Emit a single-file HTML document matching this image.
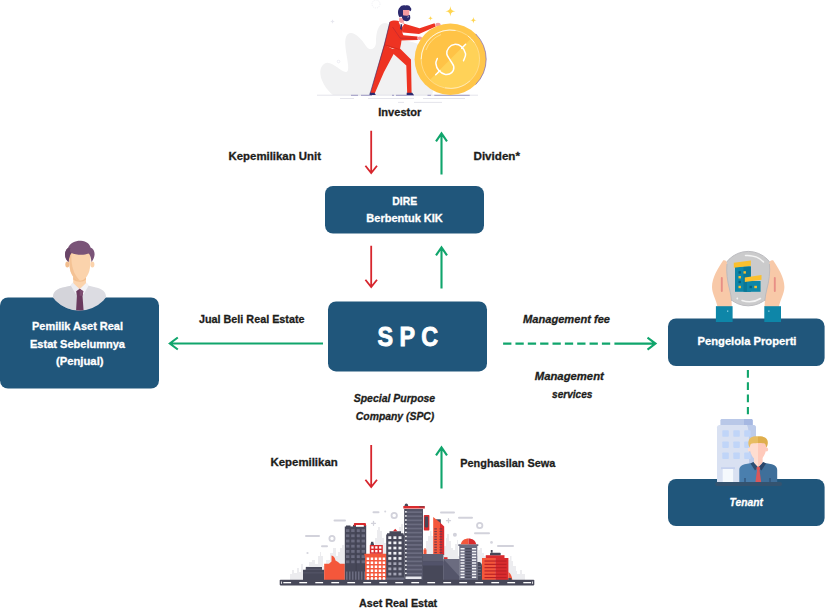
<!DOCTYPE html>
<html lang="id">
<head>
<meta charset="utf-8">
<title>Struktur DIRE</title>
<style>
html,body{margin:0;padding:0;background:#fff;}
body{width:825px;height:612px;overflow:hidden;position:relative;font-family:"Liberation Sans",sans-serif;}
svg{position:absolute;left:0;top:0;display:block;}
text{font-family:"Liberation Sans",sans-serif;font-weight:700;stroke-width:0.3px;}
.k{stroke:#1d1d1b;}
.w{stroke:#fff;}
.k{fill:#1d1d1b;}
.w{fill:#ffffff;}
.i{font-style:italic;}
.box{fill:#20567b;}
.red{stroke:#d7262d;stroke-width:1.8;fill:none;stroke-linecap:butt;stroke-linejoin:miter;}
.grn{stroke:#10a56c;stroke-width:2.1;fill:none;stroke-linecap:butt;stroke-linejoin:miter;}
</style>
</head>
<body>
<svg width="825" height="612" viewBox="0 0 825 612">
<!-- ===== BOXES ===== -->
<g id="boxes">
<rect class="box" x="325" y="186" width="159" height="47.5" rx="8"/>
<rect class="box" x="328" y="301.400" width="159" height="70" rx="8"/>
<rect class="box" x="0" y="297.5" width="159" height="91" rx="8"/>
<rect class="box" x="668" y="318.5" width="156.600" height="47.5" rx="8"/>
<rect class="box" x="668" y="479" width="156.600" height="47" rx="8"/>
</g>
<!-- ===== ARROWS ===== -->
<g id="arrows">
<path class="red" d="M371.2 130.7V173.39999999999998M365.4 165.79999999999998L371.2 173.1L377.0 165.79999999999998"/>
<path class="grn" d="M441.5 174.4V133.0M436.0 141.4L441.5 133.3L447.0 141.4"/>
<path class="red" d="M371.2 245.7V287.4M365.4 279.8L371.2 287.09999999999997L377.0 279.8"/>
<path class="grn" d="M441.5 288.4V247.0M436.0 255.4L441.5 247.3L447.0 255.4"/>
<path class="red" d="M371.2 445V487.4M365.4 479.8L371.2 487.09999999999997L377.0 479.8"/>
<path class="grn" d="M441.5 488.4V447.0M436.0 455.4L441.5 447.29999999999995L447.0 455.4"/>
<path class="grn" d="M323 343.500H170M177.800 337.500L169.800 343.500L177.800 349.500"/>
<path class="grn" d="M503.100 343.600H611" stroke-dasharray="8.300 4.050"/>
<path class="grn" d="M614.400 343.600H655.300M647.500 337.600L655.500 343.600L647.500 349.600"/>
<path class="grn" d="M747.900 370V414.300" stroke-dasharray="7.700 4.600"/>
</g>
<!-- ===== TEXT ===== -->
<g id="labels" font-size="11">
<text class="k" x="378.300" y="115.700" textLength="43" lengthAdjust="spacingAndGlyphs">Investor</text>
<text class="k" x="228.500" y="160" textLength="92.500" lengthAdjust="spacingAndGlyphs">Kepemilikan Unit</text>
<text class="k" x="473.500" y="160" textLength="46.500" lengthAdjust="spacingAndGlyphs">Dividen*</text>
<text class="w" x="392.300" y="204.700" textLength="24.800" lengthAdjust="spacingAndGlyphs">DIRE</text>
<text class="w" x="366.300" y="222" textLength="76.500" lengthAdjust="spacingAndGlyphs">Berbentuk KIK</text>
<text class="w" x="32" y="330" textLength="91" lengthAdjust="spacingAndGlyphs">Pemilik Aset Real</text>
<text class="w" x="30" y="347.500" textLength="95" lengthAdjust="spacingAndGlyphs">Estat Sebelumnya</text>
<text class="w" x="56" y="364.700" textLength="47.500" lengthAdjust="spacingAndGlyphs">(Penjual)</text>
<text class="k" x="199" y="322.500" textLength="105.500" lengthAdjust="spacingAndGlyphs">Jual Beli Real Estate</text>
<text class="w" x="377.500" y="345.800" font-size="27" style="stroke-width:0.9px" textLength="60.500" lengthAdjust="spacingAndGlyphs">S P C</text>
<text class="k i" x="353.700" y="402" textLength="81.500" lengthAdjust="spacingAndGlyphs">Special Purpose</text>
<text class="k i" x="355.800" y="419.600" textLength="78.500" lengthAdjust="spacingAndGlyphs">Company (SPC)</text>
<text class="k i" x="523" y="322.600" textLength="87" lengthAdjust="spacingAndGlyphs">Management fee</text>
<text class="k i" x="534.800" y="380" textLength="69" lengthAdjust="spacingAndGlyphs">Management</text>
<text class="k i" x="552" y="397.500" textLength="40.500" lengthAdjust="spacingAndGlyphs">services</text>
<text class="w" x="697.500" y="344.800" textLength="99" lengthAdjust="spacingAndGlyphs">Pengelola Properti</text>
<text class="w i" x="729.600" y="506" textLength="33.300" lengthAdjust="spacingAndGlyphs">Tenant</text>
<text class="k" x="270.500" y="466" textLength="67.200" lengthAdjust="spacingAndGlyphs">Kepemilikan</text>
<text class="k" x="460.300" y="467" textLength="95" lengthAdjust="spacingAndGlyphs">Penghasilan Sewa</text>
<text class="k" x="359" y="607.300" textLength="78.200" lengthAdjust="spacingAndGlyphs">Aset Real Estat</text>
</g>
<!-- ===== ILLUSTRATIONS ===== -->
<g id="investor">
<!-- grey blob -->
<path fill="#f1f1f2" d="M333 95C322 86 316 70 324 64C331 59 340 72 346 72C353 72 341 43 347 35C352 29 361 38 366 46C370 52 376 49 376 42C376 33 378 23 385 23C392 23 395 33 403 39.500C410 43 420 41 426 50C432 60 438 80 432 95Z"/>
<!-- ground lines -->
<path d="M317 95.200H478" stroke="#dddde6" stroke-width="0.800"/>
<path d="M351 95.300H358M361 95.300H372M392 95.300H394M396 95.300H414M427.500 95.300H431M434.300 95.300H469.700" stroke="#7a75b0" stroke-width="0.700"/>
<path d="M340 98.500H354M368 98.500H414M423 98.500H465M398 102.400H404M414 102.400H442" stroke="#dddde6" stroke-width="0.800"/>
<!-- sparkles deco -->
<circle cx="376" cy="4" r="4" fill="none" stroke="#e6e6ee" stroke-width="0.700" stroke-dasharray="1 1"/>
<path fill="#e6e6ee" d="M332.500 19C332.700 20.800 333.200 21.300 335 21.500C333.200 21.700 332.700 22.200 332.500 24C332.300 22.200 331.800 21.700 330 21.500C331.800 21.300 332.300 20.800 332.500 19Z"/>
<circle cx="338.500" cy="61.500" r="1.300" fill="none" stroke="#e3e3ec" stroke-width="0.600"/>
<!-- man: back leg -->
<path fill="#ee3322" d="M384.200 44.500L395.500 50.500L384 72L374.700 93.500L370.200 93.500Z"/>
<path fill="#2d2a6e" d="M369.800 92.800L374.500 92.800L375.800 95L369.500 95Z"/>
<!-- man: front leg -->
<path fill="#ee3322" d="M392 49L400 48.500L411 59.500L411.600 93.500L407.200 93.500L406.300 65.500L392.500 53Z"/>
<path fill="#2d2a6e" d="M406.700 92.800L412.300 92.800L413.800 95L406.700 95Z"/>
<!-- torso -->
<path fill="#ee3322" d="M389.800 21.800C392 20.200 397 20.200 400 21.500L404.300 24L402.500 33L401 44L399.600 50.500L384 45.500Z"/>
<path d="M389.900 22L384.300 45L370.300 93" stroke="#2d2a6e" stroke-width="0.700" fill="none" opacity="0.850"/>
<path d="M385 44.800L399.500 49.500" stroke="#c32218" stroke-width="0.500" fill="none"/>
<!-- far arm -->
<path fill="#ee3322" d="M403.500 23.600L419.600 28.300L434.500 23.200L435.800 26.600L419 34L402.800 32.500Z"/>
<!-- neck / shirt -->
<path fill="#f59ba0" d="M399.300 17.500L403.800 18.500L403.800 23L399 21.800Z"/>
<path fill="#ffffff" d="M398.500 21.500L404.300 24L401.300 28Z"/>
<path fill="#2d2a6e" d="M400.700 24L402.200 24.600L401.500 30.500L400.200 28.500Z"/>
<!-- near arm -->
<path fill="#ee3322" d="M390.300 22.200L394.800 21.200L403.500 35.300L417.500 36.400L417.800 39.900L399.800 40.500L390.500 28Z"/>
<path d="M392.500 27L400.200 38.200L416.500 38.200" stroke="#9c1f3a" stroke-width="0.500" fill="none" opacity="0.800"/>
<!-- hands -->
<ellipse cx="438" cy="24.700" rx="2.700" ry="1.900" fill="#f59ba0"/>
<ellipse cx="419.700" cy="38.200" rx="2.600" ry="1.700" fill="#f59ba0"/>
<!-- head -->
<path fill="#2d2a6e" d="M399.300 17C397.600 14 397.500 9.500 399.800 7.500C401 5.300 403.500 4.800 405.500 5.500C407.500 4.600 410 5.500 410.300 7.300C411.800 8.300 411.600 10.500 410.200 11.200L409.300 10.500L403 10.500L403 16.500Z"/>
<path fill="#f59ba0" d="M403 10H409.300V16H403Z"/>
<path fill="#2d2a6e" d="M401.400 14.500L404 15.600L407 15.800L410 15L410.300 18C410 20 408.800 21.200 406.500 21.200C403.800 21.200 402 19.500 401.400 14.500Z"/>
<path d="M407.300 17.200L409 16.600" stroke="#ffffff" stroke-width="0.600" fill="none"/>
<!-- coin -->
<circle cx="450.400" cy="59.200" r="35.800" fill="#ffc64a"/>
<path d="M475.700 33.900A35.800 35.800 0 0 1 475.700 84.500" fill="none" stroke="#7d68b5" stroke-width="0.800" opacity="0.900"/>
<circle cx="450.400" cy="59.200" r="29.200" fill="#ffd258"/>
<path fill="#ffc346" d="M471 38.500A29.200 29.200 0 0 0 421.200 59.200A29.200 29.200 0 0 0 429.700 79.900Z"/>
<circle cx="450.400" cy="59.200" r="29.200" fill="none" stroke="#ffe7ad" stroke-width="0.600"/><path d="M421.200 59.200A29.200 29.200 0 0 1 455.500 30.450" fill="none" stroke="#ffffff" stroke-width="0.700"/><path d="M468 36A29.200 29.200 0 0 1 474.300 42.500" fill="none" stroke="#ffffff" stroke-width="0.600"/><path d="M470 81A29.200 29.200 0 0 1 445 87.900" fill="none" stroke="#ffffff" stroke-width="0.500" opacity="0.800"/>
<path d="M426 50A26.500 26.500 0 0 1 441 34.500" fill="none" stroke="#ffe49a" stroke-width="0.800"/>
<g fill="none" stroke="#ffffff" stroke-width="1.500" stroke-linecap="round"><path d="M463.5 60.8C463.9 59.6 466.0 56.3 465.6 53.9C465.2 51.5 463.3 48.2 461.4 46.6C459.5 45.0 456.5 44.2 454.4 44.4C452.3 44.6 450.2 46.0 448.9 47.6C447.6 49.2 446.6 51.8 446.8 53.9C447.0 56.0 449.1 58.1 450.3 60.3C451.5 62.4 453.6 64.8 453.8 66.8C454.0 68.8 453.1 71.3 451.7 72.6C450.3 73.9 447.5 74.7 445.4 74.4C443.2 74.1 440.4 72.4 438.8 70.6C437.2 68.8 436.1 65.6 435.9 63.6C435.6 61.6 437.1 59.4 437.3 58.6"/><path d="M465.600 44.200L461.700 48.300M439.900 70.600L435.700 74.700"/></g>
<!-- stars -->
<path fill="#ffd54f" d="M450.400 6C450.900 9.800 451.600 10.700 455.400 11.300C451.600 11.900 450.900 12.800 450.400 16.600C449.900 12.800 449.200 11.900 445.400 11.300C449.200 10.700 449.900 9.800 450.400 6Z"/>
<path fill="#ffd54f" d="M430.500 15.700C430.800 17.600 431.100 17.900 433 18.200C431.100 18.500 430.800 18.800 430.500 20.700C430.200 18.800 429.900 18.500 428 18.200C429.900 17.900 430.200 17.600 430.500 15.700Z"/>
<path fill="#ffd54f" d="M473.400 17C473.800 19.500 474.200 19.900 476.600 20.300C474.200 20.700 473.800 21.100 473.400 23.600C473 21.100 472.600 20.700 470.200 20.300C472.600 19.900 473 19.500 473.400 17Z"/>
</g>
<g id="seller">
<defs><clipPath id="cpS"><circle cx="79.500" cy="277" r="33.500"/></clipPath></defs>
<g clip-path="url(#cpS)">
<!-- shirt -->
<path fill="#dcdce2" d="M53 312V297C53 291.500 57 289 63 287.500L74 285H86L96 287.500C102 289 106 291.500 106 297V312Z"/>
<path fill="#cfcfd6" d="M53 312V297C53 291.500 57 289 63 287.500L74 285L79.500 291V312Z" opacity="0.650"/>
<!-- neck -->
<path fill="#fbd3ac" d="M73.200 274H86V284L79.700 289.200L73.200 284Z"/>
<path fill="#f2be8f" d="M73.200 274H86V279.500C83 282.500 76.500 282.500 73.200 279.500Z"/>
<!-- collar -->
<path fill="#ececf1" d="M72.600 282.600L79.700 289.200L76 294.500L70.500 285.200Z"/>
<path fill="#f3f3f7" d="M86.600 282.600L79.700 289.200L83.500 294.500L88.800 285.200Z"/>
<!-- tie -->
<path fill="#6a3a5e" d="M76.200 291.200L79.700 288.700L83.300 291.200L82.500 295.800L83.700 312H76L76.900 295.800Z"/>
<path fill="#7c4c70" d="M79.700 288.700L83.300 291.200L82.500 295.800H79.700Z"/>
</g>
<!-- ears -->
<ellipse cx="67.300" cy="264.500" rx="2" ry="3" fill="#f2be8f"/>
<ellipse cx="92.400" cy="264.500" rx="2" ry="3" fill="#fbd3ac"/>
<!-- face -->
<path fill="#fbd3ac" d="M69.200 258C69.200 250 74 247 80 247C86 247 90.500 250 90.500 258C90.500 263 90.300 267 89.300 271C87.800 276.500 84 280.700 80 280.700C76 280.700 72 276.500 70.400 271C69.400 267 69.200 263 69.200 258Z"/>
<path fill="#f2be8f" d="M69.200 258C69.200 254 70 252.500 71.500 251C70.800 262 72 273 80 280.700C76 280.700 72 276.500 70.400 271C69.400 267 69.200 263 69.200 258Z" opacity="0.800"/>
<!-- hair -->
<path fill="#7a5478" d="M68.500 262C64.500 259 63.500 251.500 68 248C70 242.500 76 240.500 81 240.800C86.500 241 90 244.500 90.500 247.500C95.500 249 96 257 91.500 262C91 258 90.500 255 88.500 253.500C83 256 75 254.500 71.500 253C69.500 255 69 258.500 68.500 262Z"/>
<path fill="#694567" d="M68.500 262C64.500 259 63.500 251.500 68 248C69 247.500 70 247.500 70.500 248C69.500 250 70 252 71.500 253C69.500 255 69 258.500 68.500 262Z"/>
</g>
<g id="manager">
<!-- globe -->
<circle cx="748.200" cy="278.600" r="27.200" fill="#cbcbcc" stroke="#bcbcc0" stroke-width="1"/>
<path d="M745.500 255.500C753 255 760 258 763.500 262" fill="none" stroke="#f4f4f4" stroke-width="1.500" stroke-linecap="round"/>
<path d="M742 300.500C748 302.500 755 302 760.500 298.500" fill="none" stroke="#f4f4f4" stroke-width="1.500" stroke-linecap="round"/>
<circle cx="737.300" cy="298.500" r="0.900" fill="#f4f4f4"/>
<!-- building -->
<path fill="#0e86a8" d="M735 266.500H750.800V291.800H735Z"/>
<path fill="#0b7796" d="M743.500 266.500H750.800V291.800H743.500Z"/>
<path fill="#fbc02d" d="M733.800 262.800L750.800 260.500V265.700L733.800 267.800Z"/>
<path fill="#0e86a8" d="M745 281H760.600V291.800H745Z"/>
<path fill="#0b7796" d="M745 281H747V291.800H745Z"/>
<path fill="#fbc02d" d="M744.800 277.500L761.500 275V279.800L744.800 282Z"/>
<g fill="#fbc02d"><rect x="743.500" y="271.200" width="2.400" height="2.400"/><rect x="738.500" y="276" width="2.400" height="2.400"/><rect x="738.500" y="285.800" width="2.400" height="2.400"/><rect x="754.300" y="285.800" width="2.600" height="2.400"/></g>
<g fill="#0a5f7a"><rect x="738.500" y="271.200" width="2.400" height="2.400"/><rect x="738.500" y="280.800" width="2.400" height="2.400"/><rect x="749.500" y="285.800" width="2.400" height="2.400"/></g>
<!-- hands -->
<path fill="#f8c9a8" d="M723.300 260.300C725.500 259.800 727.300 261.500 727 264C726 271 727.500 282 729.500 289C731 295 731.800 300 731.800 307H717.500C716.500 300 712 294 712 287C712 278 718 268 723.300 260.300Z"/>
<path fill="#f8c9a8" d="M773.100 260.300C770.900 259.800 769.100 261.500 769.400 264C770.400 271 768.900 282 766.900 289C765.400 295 764.600 300 764.600 307H778.900C779.900 300 784.400 294 784.400 287C784.400 278 778.400 268 773.100 260.300Z"/>
<path d="M727 264C726 271 727.500 282 729.500 289C730.500 293 731.300 297 731.600 301" fill="none" stroke="#b9b9bd" stroke-width="0.900"/>
<path d="M769.400 264C770.400 271 768.900 282 766.900 289C765.900 293 765.100 297 764.800 301" fill="none" stroke="#b9b9bd" stroke-width="0.900"/>
<path d="M721.800 278V291" stroke="#e88f86" stroke-width="1.900" stroke-linecap="round"/>
<path d="M774.800 278V291" stroke="#e88f86" stroke-width="1.900" stroke-linecap="round"/>
<!-- cuffs -->
<rect x="715.900" y="306.200" width="16.700" height="15.800" fill="#0e86a8"/>
<rect x="764.300" y="306.200" width="16.700" height="15.800" fill="#0e86a8"/>
<rect x="727" y="310.500" width="1.300" height="1.300" fill="#8fd0e2"/>
<rect x="768.200" y="310.500" width="1.300" height="1.300" fill="#8fd0e2"/>
</g>
<g id="tenant">
<!-- building -->
<path fill="#b9c8e8" d="M722 418.900H751C752 418.900 752.700 419.600 752.700 420.500V426H720.400V420.500C720.400 419.600 721 418.900 722 418.900Z"/>
<path fill="#a6b8e2" d="M744 418.900H751C752 418.900 752.700 419.600 752.700 420.500V426H744Z"/>
<path fill="#d9e1f2" d="M719.500 425H753.500C755 425 756 426 756 427.500V482.500H717V427.500C717 426 718 425 719.500 425Z"/>
<path fill="#bccbea" d="M747 425H753.500C755 425 756 426 756 427.500V482.500H749V440C749 433 748.500 428 747 425Z"/>
<g fill="#c0d5f8">
<rect x="722.300" y="430.300" width="6.500" height="6.500" rx="0.800"/><rect x="733.300" y="430.300" width="6.500" height="6.500" rx="0.800"/><rect x="744.200" y="430.300" width="6.500" height="6.500" rx="0.800"/>
<rect x="722.300" y="441.400" width="6.500" height="6.500" rx="0.800"/><rect x="733.300" y="441.400" width="6.500" height="6.500" rx="0.800"/><rect x="744.200" y="441.400" width="6.500" height="6.500" rx="0.800"/>
<rect x="722.300" y="452.500" width="6.500" height="6.500" rx="0.800"/><rect x="733.300" y="452.500" width="6.500" height="6.500" rx="0.800"/><rect x="744.200" y="452.500" width="6.500" height="6.500" rx="0.800"/>
</g>
<rect x="721" y="467.200" width="14" height="2" fill="#c5d1ee"/>
<rect x="722.700" y="469" width="10.400" height="13.500" fill="#f5f9fd"/>
<!-- man -->
<path fill="#4a7fae" d="M739.300 482.500V470C739.300 466.500 742 464.500 746 464L754 462.500H758V482.500Z"/>
<path fill="#3f6f9a" d="M777.200 482.500V470C777.200 466.500 774.500 464.500 770.500 464L762.500 462.500H758V482.500Z"/>
<path fill="#ffddd0" d="M754 456H758V468L754 463.500Z"/>
<path fill="#ffcabb" d="M762.600 456H758V468L762.600 463.500Z"/>
<path fill="#2e4e72" d="M753.300 462L758.300 467.500L755 470.500L750.500 463.500Z"/>
<path fill="#2a466a" d="M763.300 462L758.300 467.500L761.500 470.500L766 463.500Z"/>
<path fill="#d9575a" d="M756.300 467.800L758.300 466.200L760.300 467.800L759.600 470.500L761.200 482.500H755.400L757 470.500Z"/>
<path fill="#2e4e72" d="M744.400 478H745.600V482.500H744.400ZM769.400 478H770.600V482.500H769.400Z"/>
<ellipse cx="749.300" cy="449.500" rx="1.400" ry="2" fill="#ffddd0"/>
<ellipse cx="766.700" cy="449.500" rx="1.400" ry="2" fill="#ffcabb"/>
<path fill="#ffddd0" d="M749.600 446C749.600 441 753 439 758 439V460C753 460 749.600 453 749.600 446Z"/>
<path fill="#ffcabb" d="M766.400 446C766.400 441 763 439 758 439V460C763 460 766.400 453 766.400 446Z"/>
<path fill="#e8bd62" d="M749.600 447.500C747.500 444 748 438.500 752 437C754 436.200 756 436.200 758 436.200V443C755 443.500 752 443 750.800 444C750.200 445 750 446.500 749.600 447.500Z"/>
<path fill="#dfae4c" d="M766.400 447.500C768.500 444 768.500 439.500 765 437.500C763 436.200 760 436.200 758 436.200V443C761 443.500 764 443 765.200 444C765.800 445 766 446.500 766.400 447.500Z"/>
</g>
<rect x="715.200" y="482" width="66.800" height="4" rx="2" fill="#34536f"/>
<g id="city">
<path fill="#ececef" d="M326 580V560H330V553H333V548H336V556H338V580Z"/><path fill="#ececef" d="M380 580V548H383V543H386V580Z"/><path fill="#ececef" d="M428 580V536H430V531H431.500V536H434V580Z"/><path fill="#ececef" d="M452 580V550H455V544H457V540H458V580Z"/><path fill="#ececef" d="M508 580V560H510V556H511.500V561H513V566H516V580Z"/>
<path fill="#ececef" d="M290 580V574H292V570H294V573H297V568H299V572H301V564H303V570H306V580Z"/>
<path fill="#ececef" d="M306 580V566H309V562H312V560H315V564H318V556H320V552H321V556H323V566H326V580Z"/>
<path fill="#ececef" d="M338 580V552H340V548H342V545H344V580Z"/>
<path fill="#ececef" d="M375 580V538H377V530H378V527H380V531H382V538H384V580Z"/>
<path fill="#ececef" d="M399 580V527H401V524H403V580Z"/>
<path fill="#ececef" d="M424 580V548H426V541H428V545H430V540H432V546H434V580Z"/>
<path fill="#ececef" d="M444 580V546H446V538H447V534H449V541H451V548H453V552H456V546H458V556H460V580Z"/>
<path fill="#ececef" d="M476 580V556H478V550H480V548H482V553H484V556H486V580Z"/>
<path fill="#ececef" d="M506 580V570H508V566H510V562H512V568H514V571H517V574H520V570H522V574H525V580Z"/>
<g stroke="#d2d2db" stroke-width="2" stroke-linecap="round" fill="none">
<path d="M334.5 520.5H345"/>
<path d="M306 536H319"/>
<path d="M322 546.3H327"/>
<path d="M373.5 512.3H378.5"/>
<path d="M441 512.5H454"/>
<path d="M459 517.7H472"/>
<path d="M475 533.2H489"/>
<path d="M498 546H513"/>
</g>
<g stroke="#d2d2db" stroke-width="1.300" stroke-linecap="round" fill="none"><path d="M373.500 521.300V525.300M371.500 523.300H375.500"/><path d="M448.500 518.700V522.700M446.500 520.700H450.500"/></g>
<g stroke="#d2d2db" stroke-width="1.800" fill="none">
<circle cx="332" cy="538.5" r="2.6"/>
<circle cx="394.2" cy="515.5" r="2.7"/>
<circle cx="479.7" cy="525.5" r="2.7"/>
<circle cx="454.900" cy="534.800" r="1.100" fill="#dcdce3"/>
</g>
<g fill="#d6d6de"><circle cx="307.500" cy="553" r="1.100"/><circle cx="385.200" cy="511.500" r="1"/><circle cx="491.500" cy="542.400" r="1.400"/></g>
<path fill="#474859" d="M303 580V569.800H305.800V567H322V569.800H324.200V580Z"/>
<path fill="#5a5b6e" d="M305.800 568.800H322V569.800H305.800Z"/>
<path fill="#5a5b6e" d="M303 572.500H324.200V573.300H303Z"/>
<path fill="#f4573b" d="M324.200 580V563.800H329L331.500 561.500V555.500C333.500 555.800 335 557.500 335.500 560.500L338 562L340 563.800H344.800V580Z"/>
<path fill="#474859" d="M344.800 580V526.500H346V525.500H350.500V526.500H353V525H366.200V580Z"/>
<path fill="#ffffff" d="M356 525H363.800V526.800H356Z"/><path fill="#d92b2e" d="M353.800 526V524.200C353.800 523.500 354.300 523 355 523H364.800C365.500 523 366 523.500 366 524.200V526H364V525H355.800V526Z"/>
<g fill="#6b6c80"><rect x="346.0" y="529.2" width="3.400" height="2.800"/><rect x="351.2" y="529.2" width="3.400" height="2.800"/><rect x="356.4" y="529.2" width="3.400" height="2.800"/><rect x="361.6" y="529.2" width="3.400" height="2.800"/><rect x="346.0" y="534.4" width="3.400" height="2.800"/><rect x="351.2" y="534.4" width="3.400" height="2.800"/><rect x="356.4" y="534.4" width="3.400" height="2.800"/><rect x="361.6" y="534.4" width="3.400" height="2.800"/><rect x="346.0" y="539.6" width="3.400" height="2.800"/><rect x="351.2" y="539.6" width="3.400" height="2.800"/><rect x="356.4" y="539.6" width="3.400" height="2.800"/><rect x="361.6" y="539.6" width="3.400" height="2.800"/><rect x="346.0" y="544.8" width="3.400" height="2.800"/><rect x="351.2" y="544.8" width="3.400" height="2.800"/><rect x="356.4" y="544.8" width="3.400" height="2.800"/><rect x="361.6" y="544.8" width="3.400" height="2.800"/><rect x="346.0" y="550.0" width="3.400" height="2.800"/><rect x="351.2" y="550.0" width="3.400" height="2.800"/><rect x="356.4" y="550.0" width="3.400" height="2.800"/><rect x="361.6" y="550.0" width="3.400" height="2.800"/><rect x="346.0" y="555.2" width="3.400" height="2.800"/><rect x="351.2" y="555.2" width="3.400" height="2.800"/><rect x="356.4" y="555.2" width="3.400" height="2.800"/><rect x="361.6" y="555.2" width="3.400" height="2.800"/><rect x="346.0" y="560.4" width="3.400" height="2.800"/><rect x="351.2" y="560.4" width="3.400" height="2.800"/><rect x="356.4" y="560.4" width="3.400" height="2.800"/><rect x="361.6" y="560.4" width="3.400" height="2.800"/></g>
<path fill="#3b3c4b" d="M355.500 527H357V571H355.500Z" opacity="0.500"/>
<g fill="#6b6c80"><rect x="346.0" y="571.500" width="1.500" height="8.500"/><rect x="349.0" y="571.500" width="1.500" height="8.500"/><rect x="352.0" y="571.500" width="1.500" height="8.500"/><rect x="355.0" y="571.500" width="1.500" height="8.500"/><rect x="358.0" y="571.500" width="1.500" height="8.500"/><rect x="361.0" y="571.500" width="1.500" height="8.500"/><rect x="364.0" y="571.500" width="1.500" height="8.500"/></g>
<path fill="#f4573b" d="M365 580V555.500H364.300V553.800H387.500V555.500H386.800V580Z"/>
<path fill="#d92b2e" d="M369.800 553.800V545H382.800V553.800Z"/>
<path fill="#474859" d="M371 545V541.800H373.400V545Z"/>
<path fill="#474859" d="M370.500 543.500H374V545H370.500Z"/>
<g fill="#ffffff"><rect x="371.3" y="546.3" width="2.300" height="2.300"/><rect x="371.3" y="550" width="2.300" height="2.300"/><rect x="375.2" y="546.3" width="2.300" height="2.300"/><rect x="375.2" y="550" width="2.300" height="2.300"/><rect x="379.1" y="546.3" width="2.300" height="2.300"/><rect x="379.1" y="550" width="2.300" height="2.300"/><rect x="366.7" y="557.5" width="2.500" height="2.500"/><rect x="370.7" y="557.5" width="2.500" height="2.500"/><rect x="374.7" y="557.5" width="2.500" height="2.500"/><rect x="378.7" y="557.5" width="2.500" height="2.500"/><rect x="382.7" y="557.5" width="2.500" height="2.500"/><rect x="366.7" y="561.5" width="2.500" height="2.500"/><rect x="370.7" y="561.5" width="2.500" height="2.500"/><rect x="374.7" y="561.5" width="2.500" height="2.500"/><rect x="378.7" y="561.5" width="2.500" height="2.500"/><rect x="382.7" y="561.5" width="2.500" height="2.500"/><rect x="366.7" y="565.5" width="2.500" height="2.500"/><rect x="370.7" y="565.5" width="2.500" height="2.500"/><rect x="374.7" y="565.5" width="2.500" height="2.500"/><rect x="378.7" y="565.5" width="2.500" height="2.500"/><rect x="382.7" y="565.5" width="2.500" height="2.500"/><rect x="366.7" y="569.5" width="2.500" height="2.500"/><rect x="370.7" y="569.5" width="2.500" height="2.500"/><rect x="374.7" y="569.5" width="2.500" height="2.500"/><rect x="378.7" y="569.5" width="2.500" height="2.500"/><rect x="382.7" y="569.5" width="2.500" height="2.500"/><rect x="366.7" y="573.5" width="2.500" height="2.500"/><rect x="370.7" y="573.5" width="2.500" height="2.500"/><rect x="374.7" y="573.5" width="2.500" height="2.500"/><rect x="378.7" y="573.5" width="2.500" height="2.500"/><rect x="382.7" y="573.5" width="2.500" height="2.500"/><path d="M366.7 580V578.200A1.250 1.250 0 0 1 369.2 578.200V580Z"/><path d="M370.7 580V578.200A1.250 1.250 0 0 1 373.2 578.200V580Z"/><path d="M374.7 580V578.200A1.250 1.250 0 0 1 377.2 578.200V580Z"/><path d="M378.7 580V578.200A1.250 1.250 0 0 1 381.2 578.200V580Z"/><path d="M382.7 580V578.200A1.250 1.250 0 0 1 385.2 578.200V580Z"/></g>
<path fill="#474859" d="M386.200 580V534.500H387V533.200H389.500V531.300H401V533.200H403.500V534.500H404.200V580Z"/>
<path fill="#d92b2e" d="M393 531.300L395.200 528.800L397.400 531.300Z"/>
<g fill="#f1f1f5"><rect x="388.3" y="536.3" width="3" height="2.700"/><rect x="393.4" y="536.3" width="3" height="2.700"/><rect x="398.5" y="536.3" width="3" height="2.700"/><rect x="388.3" y="541.5" width="3" height="2.700"/><rect x="393.4" y="541.5" width="3" height="2.700"/><rect x="398.5" y="541.5" width="3" height="2.700"/><rect x="388.3" y="546.7" width="3" height="2.700"/><rect x="393.4" y="546.7" width="3" height="2.700"/><rect x="398.5" y="546.7" width="3" height="2.700"/><rect x="388.3" y="551.9" width="3" height="2.700"/><rect x="393.4" y="551.9" width="3" height="2.700"/><rect x="398.5" y="551.9" width="3" height="2.700"/><rect x="388.3" y="557.1" width="3" height="2.700"/><rect x="393.4" y="557.1" width="3" height="2.700"/><rect x="398.5" y="557.1" width="3" height="2.700"/></g><g fill="#a3a4b4"><rect x="388.3" y="562.3" width="3" height="2.700"/><rect x="393.4" y="562.3" width="3" height="2.700"/><rect x="398.5" y="562.3" width="3" height="2.700"/><rect x="388.3" y="567.5" width="3" height="2.700"/><rect x="393.4" y="567.5" width="3" height="2.700"/><rect x="398.5" y="567.5" width="3" height="2.700"/><rect x="388.3" y="572.7" width="3" height="2.700"/><rect x="393.4" y="572.7" width="3" height="2.700"/><rect x="398.5" y="572.7" width="3" height="2.700"/></g>
<path fill="#6b6c80" d="M386.200 577.500H404.200V580H386.200Z"/>
<path fill="#474859" d="M404.200 580V509H423V580Z"/>
<path fill="#6b6c80" d="M406.500 509H423V580H406.500Z" opacity="0.350"/>
<g fill="#6b6c80"><rect x="407" y="511.3" width="15" height="1.700"/><rect x="407" y="515.4" width="15" height="1.700"/><rect x="407" y="519.5" width="15" height="1.700"/><rect x="407" y="523.6" width="15" height="1.700"/><rect x="407" y="527.7" width="15" height="1.700"/><rect x="407" y="531.8" width="15" height="1.700"/><rect x="407" y="535.9" width="15" height="1.700"/><rect x="407" y="540.0" width="15" height="1.700"/><rect x="407" y="544.1" width="15" height="1.700"/><rect x="407" y="548.2" width="15" height="1.700"/><rect x="407" y="552.3" width="15" height="1.700"/><rect x="407" y="556.4" width="15" height="1.700"/><rect x="407" y="560.5" width="15" height="1.700"/><rect x="407" y="564.6" width="15" height="1.700"/><rect x="407" y="568.7" width="15" height="1.700"/><rect x="407" y="572.8" width="15" height="1.700"/></g>
<g fill="#f1f1f5"><rect x="405" y="511.1" width="1.800" height="1.500"/><rect x="405" y="515.2" width="1.800" height="1.500"/><rect x="405" y="519.3" width="1.800" height="1.500"/><rect x="405" y="523.4" width="1.800" height="1.500"/><rect x="405" y="527.5" width="1.800" height="1.500"/><rect x="405" y="531.6" width="1.800" height="1.500"/><rect x="405" y="535.7" width="1.800" height="1.500"/><rect x="405" y="539.8" width="1.800" height="1.500"/><rect x="405" y="543.9" width="1.800" height="1.500"/><rect x="405" y="548.0" width="1.800" height="1.500"/><rect x="405" y="552.1" width="1.800" height="1.500"/><rect x="405" y="556.2" width="1.800" height="1.500"/><rect x="405" y="560.3" width="1.800" height="1.500"/><rect x="405" y="564.4" width="1.800" height="1.500"/><rect x="405" y="568.5" width="1.800" height="1.500"/><rect x="405" y="572.6" width="1.800" height="1.500"/></g>
<path fill="#e8e8ee" d="M405.500 576.500H421.500V579H405.500Z"/>
<path fill="#474859" d="M404.500 506C404.500 504.300 405.500 503.500 406.300 503.500C407.200 503.500 408.200 504.300 408.200 506Z"/>
<path fill="#d92b2e" d="M403.300 506H424.300C424.600 506 424.800 506.300 424.800 506.600V508.500H403.300Z"/>
<path fill="#474859" d="M419 506.300H424.600V507.200H419Z" opacity="0.600"/>
<rect x="423.800" y="515" width="5.600" height="15.600" rx="0.800" fill="#d92b2e"/>
<rect x="424.800" y="516.500" width="3.400" height="11" rx="1.200" fill="#474859"/>
<path fill="#474859" d="M436 527V519.300H440.800V527Z"/>
<path fill="#f4573b" d="M433.200 555V517L440 522.500V555Z"/>
<path fill="#d92b2e" d="M440 522.500L444.200 526.500V555H440Z"/>
<g fill="#7d3a46"><rect x="434.300" y="528.30" width="2.600" height="1.200"/><rect x="439.500" y="528.30" width="2.700" height="1.200"/><rect x="434.300" y="530.92" width="2.600" height="1.200"/><rect x="439.500" y="530.92" width="2.700" height="1.200"/><rect x="434.300" y="533.54" width="2.600" height="1.200"/><rect x="439.500" y="533.54" width="2.700" height="1.200"/><rect x="434.300" y="536.16" width="2.600" height="1.200"/><rect x="439.500" y="536.16" width="2.700" height="1.200"/><rect x="434.300" y="538.78" width="2.600" height="1.200"/><rect x="439.500" y="538.78" width="2.700" height="1.200"/><rect x="434.300" y="541.40" width="2.600" height="1.200"/><rect x="439.500" y="541.40" width="2.700" height="1.200"/><rect x="434.300" y="544.02" width="2.600" height="1.200"/><rect x="439.500" y="544.02" width="2.700" height="1.200"/><rect x="434.300" y="546.64" width="2.600" height="1.200"/><rect x="439.500" y="546.64" width="2.700" height="1.200"/><rect x="434.300" y="549.26" width="2.600" height="1.200"/><rect x="439.500" y="549.26" width="2.700" height="1.200"/><rect x="434.300" y="551.88" width="2.600" height="1.200"/><rect x="439.500" y="551.88" width="2.700" height="1.200"/></g>
<path fill="#f4573b" d="M423.500 554V549.500H424.500V548H425.500V549.500H426.500V554Z"/>
<path fill="#5d5e72" d="M423 554H443.500V580H423Z"/>
<path fill="#474859" d="M423 561.500H443.500V580H423Z"/>
<path fill="#52536a" d="M423 561.500H443.500V565.500H423Z"/>
<path fill="#d92b2e" d="M444 557.200H447.500V559H444Z"/>
<path fill="#6b6c80" d="M443.500 559H459.500V580H443.500Z"/>
<path fill="#54556a" d="M443.500 559L459.500 576.500V580H443.500Z"/>
<path fill="#6b6c80" d="M459.300 580V546H458.300V544.200H478.300V546H477.300V580Z"/>
<path fill="#f4573b" d="M460.800 544.200C461.500 540.500 464.500 538.400 468.500 538.400V544.200Z"/>
<path fill="#d92b2e" d="M476.200 544.200C475.500 540.500 472.500 538.400 468.500 538.400V544.200Z"/>
<g fill="#f1f1f5"><rect x="460.500" y="548.00" width="4" height="1.500"/><rect x="472" y="548.00" width="4.200" height="1.500"/><rect x="460.500" y="550.85" width="4" height="1.500"/><rect x="472" y="550.85" width="4.200" height="1.500"/><rect x="460.500" y="553.70" width="4" height="1.500"/><rect x="472" y="553.70" width="4.200" height="1.500"/><rect x="460.500" y="556.55" width="4" height="1.500"/><rect x="472" y="556.55" width="4.200" height="1.500"/><rect x="460.500" y="559.40" width="4" height="1.500"/><rect x="472" y="559.40" width="4.200" height="1.500"/><rect x="460.500" y="562.25" width="4" height="1.500"/><rect x="472" y="562.25" width="4.200" height="1.500"/><rect x="460.500" y="565.10" width="4" height="1.500"/><rect x="472" y="565.10" width="4.200" height="1.500"/><rect x="460.500" y="567.95" width="4" height="1.500"/><rect x="472" y="567.95" width="4.200" height="1.500"/><rect x="460.500" y="570.80" width="4" height="1.500"/><rect x="472" y="570.80" width="4.200" height="1.500"/><rect x="460.500" y="573.65" width="4" height="1.500"/><rect x="472" y="573.65" width="4.200" height="1.500"/><rect x="460.500" y="576.50" width="4" height="1.500"/><rect x="472" y="576.50" width="4.200" height="1.500"/></g>
<g fill="#474859"><rect x="465.300" y="548.00" width="6" height="1.500"/><rect x="465.300" y="550.85" width="6" height="1.500"/><rect x="465.300" y="553.70" width="6" height="1.500"/><rect x="465.300" y="556.55" width="6" height="1.500"/><rect x="465.300" y="559.40" width="6" height="1.500"/><rect x="465.300" y="562.25" width="6" height="1.500"/><rect x="465.300" y="565.10" width="6" height="1.500"/><rect x="465.300" y="567.95" width="6" height="1.500"/><rect x="465.300" y="570.80" width="6" height="1.500"/><rect x="465.300" y="573.65" width="6" height="1.500"/><rect x="465.300" y="576.50" width="6" height="1.500"/></g>
<path fill="#474859" d="M477.300 580V562H479.500C481 562.500 482 564 482 566V580Z"/>
<g fill="#6b6c80"><rect x="478.200" y="566" width="2.600" height="1"/><rect x="478.200" y="569" width="2.600" height="1"/><rect x="478.200" y="572" width="2.600" height="1"/><rect x="478.200" y="575" width="2.600" height="1"/></g>
<path fill="#f4573b" d="M482 580V558H495.200V580Z"/>
<path fill="#d92b2e" d="M495.200 558H508.400V580H495.200Z"/>
<path fill="#d92b2e" d="M485.800 555.200H504.500V558H485.800Z"/>
<path fill="#474859" d="M490 555.200V553.500C490 553 490.400 552.700 491 552.700H500C500.400 552.700 500.700 553 500.700 553.500V555.200Z"/>
<path fill="#474859" d="M490.800 552.700V550H492.600V552.700Z"/>
<g fill="#b81f25"><rect x="484.500" y="560.5" width="22" height="1.100"/><rect x="484.500" y="563.8" width="22" height="1.100"/><rect x="484.500" y="567.1" width="22" height="1.100"/><rect x="484.500" y="570.4" width="22" height="1.100"/><rect x="484.500" y="573.7" width="22" height="1.100"/><rect x="484.500" y="577.0" width="22" height="1.100"/></g>
<path fill="#f4573b" d="M508.400 572C510.500 573.500 512 576 512.300 580H508.400Z"/>
<path fill="#474859" d="M508.400 578H511.500V580H508.400Z"/>
<path fill="#474859" d="M280.500 579.800H533.500C534 579.800 534.300 580.100 534.300 580.600V584.600C534.300 585 534 585.400 533.500 585.400H280.500C280 585.400 279.700 585 279.700 584.600V580.600C279.700 580.100 280 579.800 280.500 579.800Z"/>
<g fill="#ffffff"><rect x="283.3" y="582" width="7.800" height="1.300"/><rect x="299.3" y="582" width="7.800" height="1.300"/><rect x="315.3" y="582" width="7.800" height="1.300"/><rect x="331.3" y="582" width="7.800" height="1.300"/><rect x="347.3" y="582" width="7.800" height="1.300"/><rect x="363.3" y="582" width="7.800" height="1.300"/><rect x="379.3" y="582" width="7.800" height="1.300"/><rect x="395.3" y="582" width="7.800" height="1.300"/><rect x="411.3" y="582" width="7.800" height="1.300"/><rect x="427.3" y="582" width="7.800" height="1.300"/><rect x="443.3" y="582" width="7.800" height="1.300"/><rect x="459.3" y="582" width="7.800" height="1.300"/><rect x="475.3" y="582" width="7.800" height="1.300"/><rect x="491.3" y="582" width="7.800" height="1.300"/><rect x="507.3" y="582" width="7.800" height="1.300"/><rect x="523.3" y="582" width="7.800" height="1.300"/><rect x="281" y="581.500" width="0.800" height="2.300"/><rect x="532.200" y="581.500" width="0.800" height="2.300"/></g>
</g>
</svg>
</body>
</html>
